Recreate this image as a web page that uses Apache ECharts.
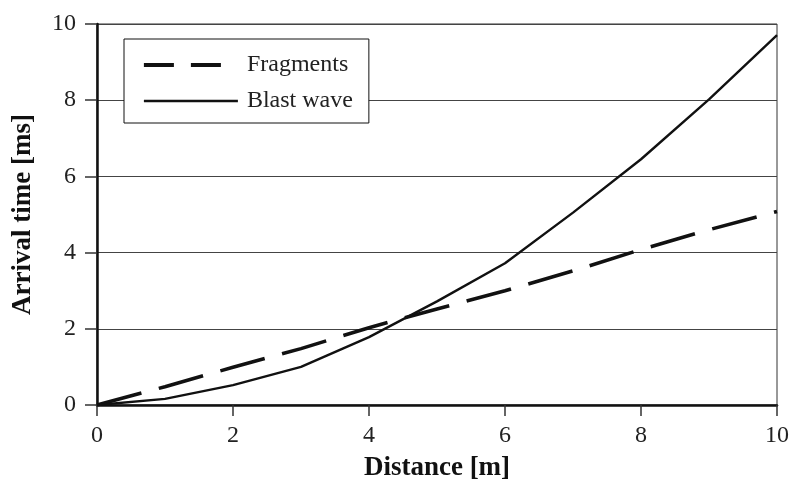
<!DOCTYPE html>
<html>
<head>
<meta charset="utf-8">
<script src="https://cdn.jsdelivr.net/npm/echarts@6/dist/echarts.min.js"></script>
<style>
  html, body { margin: 0; padding: 0; background: #fff; }
  #main { width: 792px; height: 488px; }
</style>
</head>
<body>
<div id="main"></div>
<script>
// distance [m]
var distance = [0, 1, 2, 3, 4, 5, 6, 7, 8, 9, 10]
// arrival time [ms]
var fragments = [0, 0.48, 0.99, 1.48, 2.03, 2.52, 3.0, 3.52, 4.08, 4.6, 5.08]
var blastWave = [0, 0.16, 0.52, 1.0, 1.78, 2.72, 3.72, 5.05, 6.45, 8.02, 9.71]

var serif = '"Liberation Serif", "Times New Roman", serif'

function pairs(xs, ys) {
  return xs.map(function (x, i) { return [x, ys[i]] })
}

var chart = echarts.init(document.getElementById('main'))

var option = {
  animation: false,
  backgroundColor: '#fff',
  grid: {
    left: 97,
    right: 14,
    top: 24,
    bottom: 83,
    show: true,
    borderColor: '#333',
    borderWidth: 1
  },
  legend: {
    left: 124,
    top: 39,
    orient: 'vertical',
    backgroundColor: '#fff',
    borderColor: '#111',
    borderWidth: 1,
    borderRadius: 0,
    padding: [14, 16, 10, 18],
    itemWidth: 94,
    itemHeight: 14,
    itemGap: 12,
    itemStyle: { opacity: 0 },
    textStyle: {
      fontFamily: serif,
      fontSize: 24,
      lineHeight: 24,
      color: '#222',
      padding: [0, 0, 0, 4]
    },
    data: [
      { name: 'Fragments', lineStyle: { type: [30, 17], width: 3.8 } },
      { name: 'Blast wave', lineStyle: { width: 2.4 } }
    ]
  },
  xAxis: {
    type: 'value',
    min: 0,
    max: 10,
    interval: 2,
    name: 'Distance [m]',
    nameLocation: 'middle',
    nameGap: 50,
    nameTextStyle: {
      fontFamily: serif,
      fontSize: 27,
      fontWeight: 'bold',
      color: '#111'
    },
    axisLine: { show: true, lineStyle: { color: '#111', width: 2.5 } },
    axisTick: { show: true, length: 11, lineStyle: { color: '#333', width: 1.5 } },
    axisLabel: {
      margin: 19,
      fontFamily: serif,
      fontSize: 24,
      color: '#222'
    },
    splitLine: { show: false }
  },
  yAxis: {
    type: 'value',
    min: 0,
    max: 10,
    interval: 2,
    name: 'Arrival time [ms]',
    nameLocation: 'middle',
    nameGap: 60,
    nameTextStyle: {
      fontFamily: serif,
      fontSize: 27,
      fontWeight: 'bold',
      color: '#111'
    },
    axisLine: { show: true, lineStyle: { color: '#111', width: 2.5 } },
    axisTick: { show: true, length: 12, lineStyle: { color: '#333', width: 1.5 } },
    axisLabel: {
      margin: 21,
      fontFamily: serif,
      fontSize: 24,
      color: '#222'
    },
    splitLine: { show: true, lineStyle: { color: '#444', width: 1.2 } }
  },
  series: [
    {
      name: 'Fragments',
      type: 'line',
      data: pairs(distance, fragments),
      symbol: 'none',
      lineStyle: { color: '#111', width: 3.6, type: [46, 18] },
      itemStyle: { color: '#111' },
      z: 3
    },
    {
      name: 'Blast wave',
      type: 'line',
      data: pairs(distance, blastWave),
      symbol: 'none',
      lineStyle: { color: '#111', width: 2.4 },
      itemStyle: { color: '#111' },
      z: 4
    }
  ]
}

chart.setOption(option)
</script>
</body>
</html>
